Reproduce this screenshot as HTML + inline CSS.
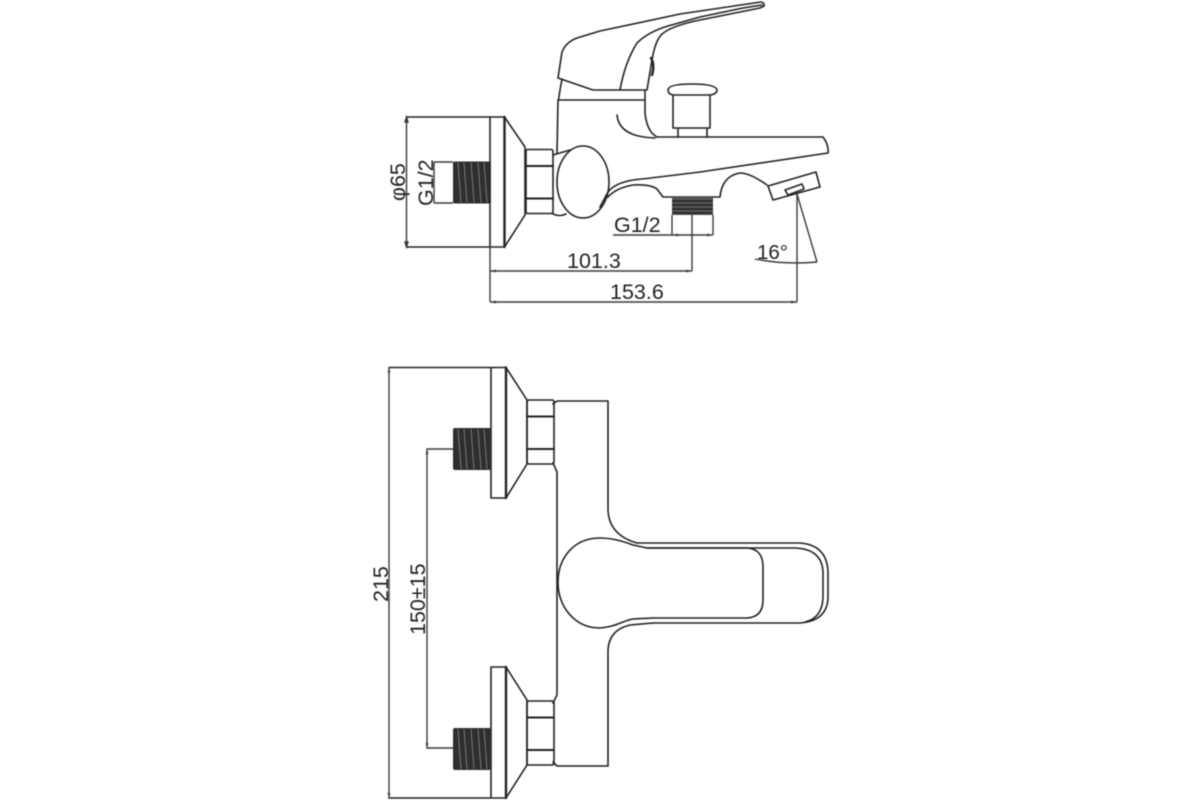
<!DOCTYPE html>
<html><head><meta charset="utf-8"><style>
html,body{margin:0;padding:0;background:#fff}
svg{display:block;filter:blur(.45px)}
text{font-family:"Liberation Sans",sans-serif;font-size:21.5px;fill:#222}
.l{fill:none;stroke:#222;stroke-width:1.6;stroke-linejoin:round;stroke-linecap:round}
.d{fill:none;stroke:#3a3a3a;stroke-width:1.4}
.t{stroke-width:2.4}
.h{stroke:#8a8a8a;stroke-width:.8}
</style></head><body>
<svg width="1200" height="800" viewBox="0 0 1200 800" xmlns="http://www.w3.org/2000/svg">
<defs>
<g id="nut">
<path class="l" d="M0 2Q0 0 2 0H25Q27 0 27 2V62Q27 64 25 64H2Q0 64 0 62Z"/>
<path class="l t" d="M0 16.5H27M0 49H27" style="stroke-width:2"/>
</g>
<g id="thr">
<rect x="0" y="0" width="38" height="42" rx="2" fill="#2e2e2e"/>
<path class="h" d="M5 1 8 41M11 1 14 41M18 1 21 41M25 1 28 41M31 1 34 41"/>
</g>
</defs>

<!-- TOP VIEW -->
<path class="l" d="M490 117V247"/>
<path class="l t" d="M504.5 117V247"/>
<path class="l" d="M407 117H504.5L525 147V215L504.5 247H407"/>
<use href="#thr" x="453" y="161.500"/>
<use href="#nut" x="526" y="149.500"/>
<path class="d" d="M434 162H453M434 203H453M434 162V203M406.500 117V247"/>
<path class="d" d="M406.500 117l-1.500 5h3zM406.500 247l-1.500-5h3z" fill="#444"/>

<ellipse class="l" cx="583" cy="182" rx="26" ry="36"/>
<path class="l" d="M553 155 570 150M553 214Q560 217 566 214"/>
<path class="l" d="M557 153 558 100H645"/>
<!-- lever -->
<path class="l" d="M558 78 562 52Q566 42 577 38L600 31 680 14 761 2Q765 3 764 6L760 8 700 20Q670 26 661 35 655 42 652 60L647 90M558 78 593 90H647"/>
<path class="l" d="M620 90Q625 62 637 43 648 32 668 26L700 17 743 8 762 5"/>
<path class="l" d="M562 79 560 90 558.500 100"/>
<path class="l t" d="M651 58Q655 65 652 75"/>
<path class="l" d="M645 90V100V113Q647 132 657 137H823Q829 145 828 153L700 172Q660 177 633 180 615 183 608 192L600 207"/>
<path class="l" d="M617 115Q619 137 655 138"/>
<path class="l" d="M608 197Q616 188 633 185 650 184 657 189L663 197H720Q722 176 740 173 750 173 767 185"/>
<!-- knob -->
<path class="l" d="M673 95H710Q717 94 717 90 716 84 692 84 668 84 668 90 668 94 673 95ZM673 95V128H710V95M678 128V137M707 128V137"/>
<!-- aerator -->
<path class="l" d="M768 186 773 200 820 187 816 172Z"/>
<path class="l" d="M785 190 788 195 804 189 802 184Z"/>
<!-- bottom thread -->
<rect x="672" y="197" width="41" height="18" fill="#555"/>
<path d="M672 201H713M672 205H713M672 209H713M672 213H713" stroke="#222" stroke-width="1.500"/>
<!-- dims -->
<path class="d" d="M672 215V235M713 215V235M613 235H713M692 215V271M490 247V302M490 271H692M490 302H797M797 194V302M797 194 817 262M755 259Q785 265 817 262"/>
<path d="M490 271l6-1.500v3zM490 302l6-1.500v3zM692 271l-6-1.500v3zM797 302l-6-1.500v3zM672 235l6-1.500v3zM713 235l-6-1.500v3z" fill="#444"/>
<text x="567" y="268">101.3</text>
<text x="610" y="299">153.6</text>
<text x="614" y="232">G1/2</text>
<text x="757" y="259" style="font-size:20.500px">16°</text>
<text transform="translate(405 201) rotate(-90)">φ65</text>
<text transform="translate(433 206) rotate(-90)">G1/2</text>

<!-- BOTTOM VIEW -->
<path class="l" d="M389 367.500H506L527 400V464L506 498H491V367.500"/>
<path class="l t" d="M506 367.500V498"/>
<use href="#thr" x="453" y="428"/>
<use href="#nut" x="527" y="400"/>
<path class="l" d="M491 798V667H506L527 700V765L506 798H389"/>
<path class="l t" d="M506 667V798"/>
<use href="#thr" x="453" y="728"/>
<use href="#nut" x="527" y="701"/>
<path class="d" d="M389 367.500V798M453 449H427V748H453"/>
<path d="M389 367.500l-1.500 5h3zM389 798l-1.500-5h3zM427 449l-1.500 5h3zM427 748l-1.500-5h3z" fill="#444"/>
<!-- body -->
<path class="l" d="M553 404 557 401H608V510Q609 535 637 543"/>
<path class="l" d="M553 463 557 472V695L553 703"/>
<path class="l" d="M553 762 557 766H608V650Q609 630 630 625L653 623"/>
<!-- handle -->
<path class="l" d="M633 545Q615 538 600 538C572 538 558 560 558 582 558 606 574 628 600 628 615 627 622 621 633 619L653 618H747Q763 617 763 600V567Q763 549 747 548H647L633 545"/>
<path class="l" d="M637 543H800Q827 545 828 572V598Q827 621 800 623H653"/>
<path class="l" d="M647 548H795Q822 549 823 572V598Q822 618 805 622"/>
<text transform="translate(388 602) rotate(-90)">215</text>
<text transform="translate(425 635) rotate(-90)">150±15</text>
</svg>
</body></html>
